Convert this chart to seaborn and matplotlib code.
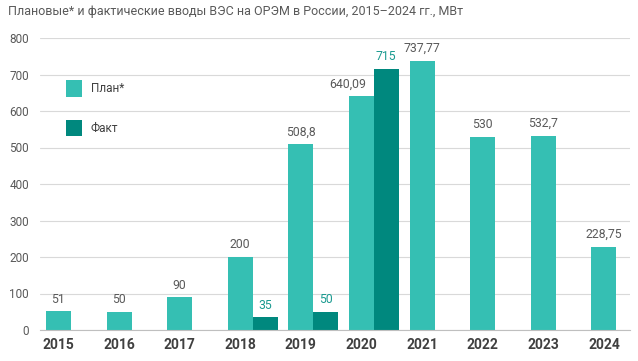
import numpy as np
import pandas as pd
import matplotlib
matplotlib.use("Agg")
import matplotlib.pyplot as plt
import seaborn as sns

years = ["2015", "2016", "2017", "2018", "2019", "2020", "2021", "2022", "2023", "2024"]
plan = [51, 50, 90, 200, 508.8, 640.09, 737.77, 530, 532.7, 228.75]
fact = [np.nan, np.nan, np.nan, 35, 50, 715, np.nan, np.nan, np.nan, np.nan]
plan_labels = ["51", "50", "90", "200", "508,8", "640,09", "737,77", "530", "532,7", "228,75"]
fact_labels = ["35", "50", "715"]
series = ["План*", "Факт"]
colors = ["#35bfb3", "#00887e"]

df = pd.DataFrame({
    "year": years * 2,
    "value": plan + fact,
    "series": [series[0]] * len(years) + [series[1]] * len(years),
})

sns.set_style("white")
plt.rcParams["font.family"] = ["Roboto", "DejaVu Sans"]

fig = plt.figure(figsize=(6.38, 3.61), dpi=100)
ax = fig.add_axes([40 / 638, 1 - 330 / 361, 590 / 638, 292 / 361])

sns.barplot(data=df, x="year", y="value", hue="series", palette=colors,
            width=0.82, saturation=1, linewidth=0, ax=ax)

ax.set_ylim(0, 800)
ax.set_xlim(-0.51, 9.226)
ax.set_yticks(range(0, 801, 100))
ax.yaxis.grid(True, color="#d9d9d9", lw=0.8)
ax.set_axisbelow(True)
for s in ["top", "right", "left"]:
    ax.spines[s].set_visible(False)
ax.spines["bottom"].set_color("#bfbfbf")
ax.spines["bottom"].set_linewidth(0.8)

ax.set_xticks(np.arange(len(years)) - 0.205)
ax.set_xticklabels(years)
ax.tick_params(axis="x", length=0, pad=6, labelsize=10, labelcolor="#404040")
for t in ax.get_xticklabels():
    t.set_fontweight("bold")
ax.tick_params(axis="y", length=0, pad=8, labelsize=8.5, labelcolor="#595959")
ax.set_xlabel("")
ax.set_ylabel("")

anns = ax.bar_label(ax.containers[0], labels=plan_labels, padding=4,
                    fontsize=8.8, color="#595959")
for a, lab in zip(anns, plan_labels):
    if lab == "640,09":
        a.xyann = (-10, 4)
ax.bar_label(ax.containers[1], labels=fact_labels, padding=4,
             fontsize=8.8, color="#1a9a90")

handles, labels = ax.get_legend_handles_labels()
ax.legend(handles, labels, loc="upper left", bbox_to_anchor=(0.044, 0.855),
          frameon=False, fontsize=8.5, handlelength=1.4, handleheight=1.75,
          labelspacing=1.95, handletextpad=0.7, borderaxespad=0, borderpad=0,
          labelcolor="#404040")

fig.text(8 / 638, 1 - 12 / 361, "Плановые* и фактические вводы ВЭС на ОРЭМ в России, 2015–2024 гг., МВт",
         fontsize=9, color="#595959", va="center", ha="left")

fig.savefig("out.png", dpi=100)
